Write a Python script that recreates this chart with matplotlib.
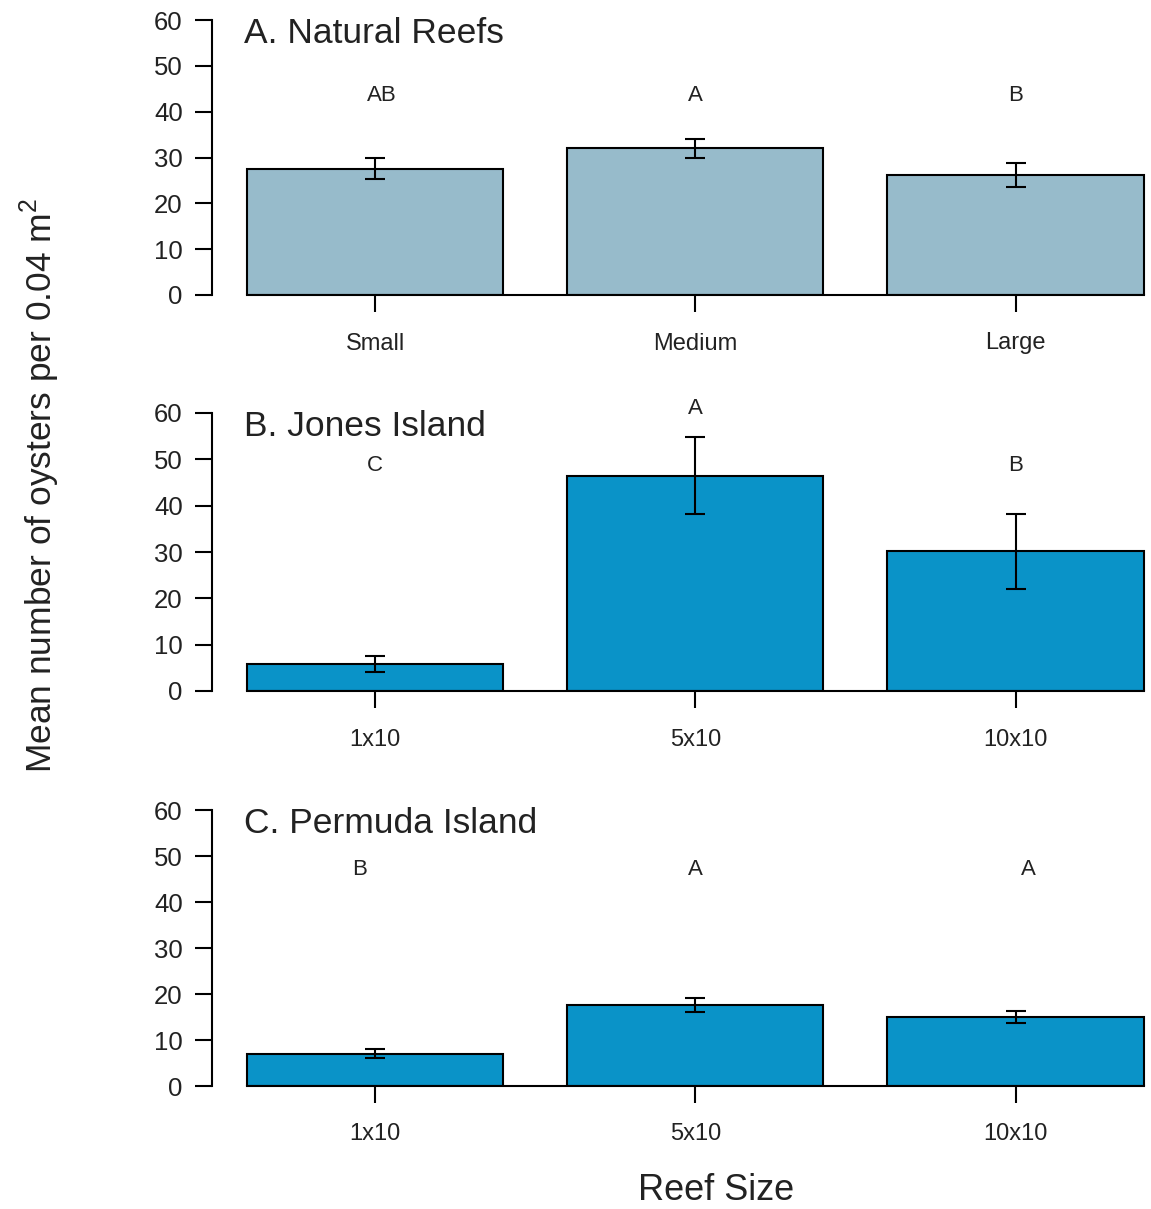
import matplotlib
matplotlib.use("Agg")
import matplotlib.pyplot as plt

plt.rcParams['font.family'] = ['Liberation Sans', 'DejaVu Sans']
plt.rcParams['mathtext.fontset'] = 'custom'
plt.rcParams['mathtext.rm'] = 'Liberation Sans'

# ----------------------------------
# Data
natural_labels = ["Small", "Medium", "Large"]
natural_means = [27.6, 32.0, 26.2]
natural_err = [2.2, 2.0, 2.7]
natural_letters = ["AB", "A", "B"]

jones_labels = ["1x10", "5x10", "10x10"]
jones_means = [5.8, 46.5, 30.2]
jones_err = [1.8, 8.4, 8.1]
jones_letters = ["C", "A", "B"]

permuda_labels = ["1x10", "5x10", "10x10"]
permuda_means = [7.0, 17.6, 15.0]
permuda_err = [1.0, 1.5, 1.3]
permuda_letters = ["B", "A", "A"]

panels = [
    ("A. Natural Reefs", natural_labels, natural_means, natural_err, natural_letters,
     [43.5, 43.5, 43.5], [0.02, 1.0, 2.0], '#97BBCB'),
    ("B. Jones Island", jones_labels, jones_means, jones_err, jones_letters,
     [48.6, 61.0, 48.6], [0.0, 1.0, 2.0], '#0A93C8'),
    ("C. Permuda Island", permuda_labels, permuda_means, permuda_err, permuda_letters,
     [47.0, 47.0, 47.0], [-0.05, 1.0, 2.04], '#0A93C8'),
]

fig = plt.figure(figsize=(11.51, 12.09), dpi=100)

# axes rectangles (left, bottom, width, height) in figure fractions
W, H = 1151.0, 1209.0
left = 212 / W
width = 938 / W
rects = [
    (left, 1 - 295 / H, width, 275 / H),
    (left, 1 - 691 / H, width, 278 / H),
    (left, 1 - 1086 / H, width, 276 / H),
]

for rect, (title, labels, means, errs, letters, ly, lx, color) in zip(rects, panels):
    ax = fig.add_axes(rect)
    x = list(range(len(labels)))
    ax.bar(x, means, width=0.8, color=color, edgecolor='black', linewidth=1.5, zorder=2)
    ax.errorbar(x, means, yerr=errs, fmt='none', ecolor='black', elinewidth=1.5,
                capsize=7, capthick=1.5, zorder=3)

    for xi, yi, s in zip(lx, ly, letters):
        ax.text(xi, yi, s, ha='center', va='center', fontsize=16, color='#222222', clip_on=False)

    ax.text(-0.41, 57, title, ha='left', va='center', fontsize=25.5, color='#222222')

    ax.set_xlim(-0.51, 2.42)
    ax.set_ylim(0, 60)
    ax.set_yticks(range(0, 61, 10))
    ax.set_xticks(x)
    ax.set_xticklabels(labels)

    for s in ['top', 'right']:
        ax.spines[s].set_visible(False)
    ax.spines['left'].set_bounds(0, 60)
    ax.spines['left'].set_linewidth(1.5)
    ax.spines['bottom'].set_bounds(-0.4, 2.4)
    ax.spines['bottom'].set_linewidth(1.5)
    ax.spines['bottom'].set_zorder(4)

    ax.tick_params(axis='y', direction='out', length=12, width=1.5, labelsize=18.5, pad=9,
                   colors='black', labelcolor='#222222')
    ax.tick_params(axis='x', direction='out', length=12, width=1.5, labelsize=17, pad=15,
                   colors='black', labelcolor='#222222')

fig.text(40 / W, 1 - 485 / H, r"Mean number of oysters per 0.04 m$^2$", rotation=90,
         ha='center', va='center', fontsize=25.5, color='#222222')
fig.text(716 / W, 1 - 1190 / H, "Reef Size", ha='center', va='center', fontsize=26,
         color='#222222')

fig.savefig("out.png", dpi=100)
